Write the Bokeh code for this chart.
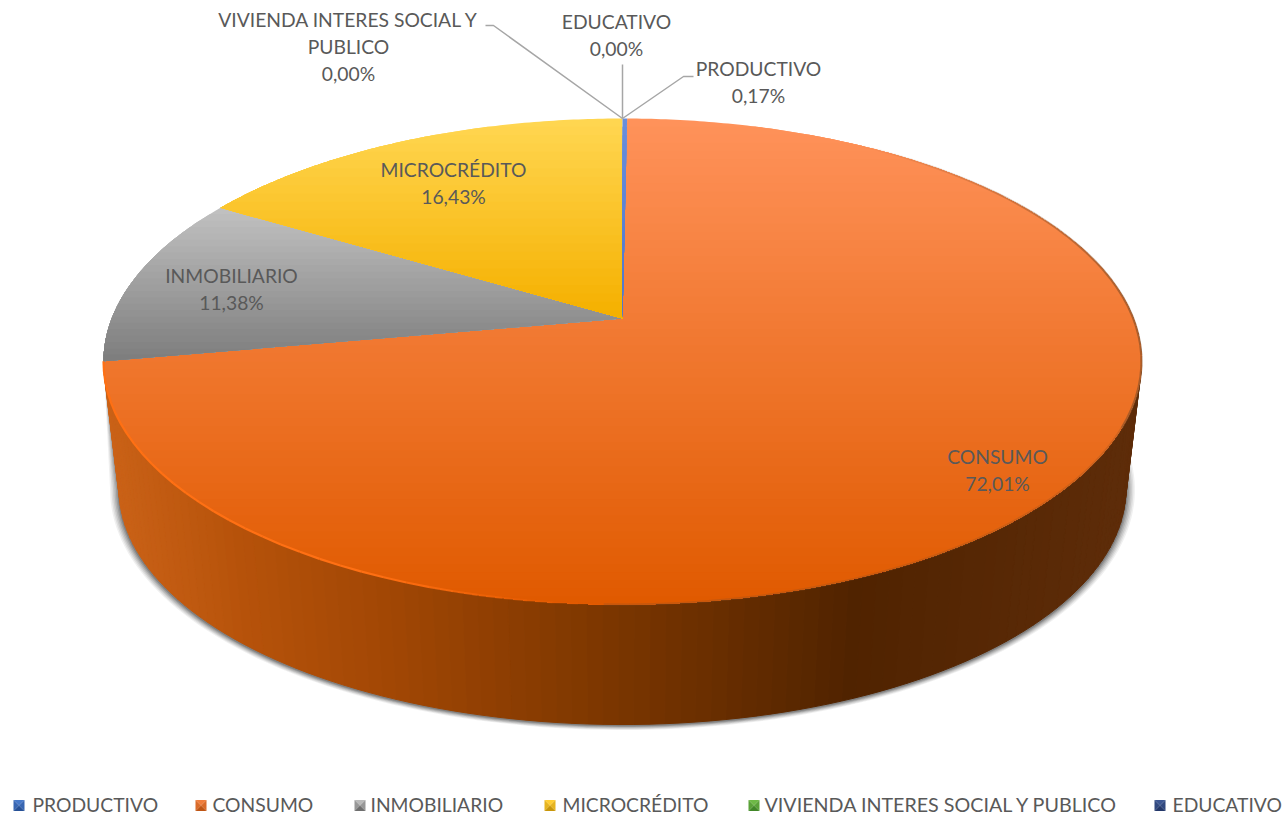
import numpy as np
from bokeh.plotting import figure
from bokeh.models import Range1d
from bokeh.core.properties import value
from bokeh.embed import file_html
from bokeh.resources import INLINE

categories = ["PRODUCTIVO", "CONSUMO", "INMOBILIARIO", "MICROCRÉDITO",
              "VIVIENDA INTERES SOCIAL Y  PUBLICO", "EDUCATIVO"]
shares = [0.17, 72.01, 11.38, 16.43, 0.00, 0.00]
share_labels = ["0,17%", "72,01%", "11,38%", "16,43%", "0,00%", "0,00%"]

FONT = value("Lato")
TXT = "#595959"
FS = "19.3px"

CX, CY = 622.0, 318.0
K, F, G = 0.177, 510.8, 235.4
DEPTH, SHRINK = 128.6, 0.97


def project(theta, depth=0.0, s=1.0):
    w = 1 + K * np.cos(theta)
    return CX + s * F * np.sin(theta) / w, CY + depth - s * G * np.cos(theta) / w


def lerp(c0, c1, t):
    c0, c1 = np.array(c0, float), np.array(c1, float)
    c = c0 + (c1 - c0) * t
    return "#%02x%02x%02x" % tuple(int(round(v)) for v in c)


def clip_below(px, py, y0):
    ox, oy = [], []
    n = len(px)
    for i in range(n):
        x1, y1, x2, y2 = px[i], py[i], px[(i + 1) % n], py[(i + 1) % n]
        if y1 >= y0:
            ox.append(x1); oy.append(y1)
        if (y1 >= y0) != (y2 >= y0):
            t = (y0 - y1) / (y2 - y1)
            ox.append(x1 + t * (x2 - x1)); oy.append(y0)
    return ox, oy


p = figure(width=1287, height=816, output_backend="svg", toolbar_location=None,
           x_range=Range1d(0, 1287), y_range=Range1d(816, 0),
           x_axis_type=None, y_axis_type=None, min_border=0,
           outline_line_color=None, margin=(0, 0, 0, 0))
p.grid.visible = False

total = sum(shares)
edges = np.cumsum([0] + shares) / total * 2 * np.pi

# soft shadow behind the wall: top rim fixed, bottom rim pushed outward
th = np.linspace(np.radians(70), edges[2], 130)
tx, ty = project(th)
wx, wy = project(th, DEPTH, SHRINK)
cyb = (wy.max() + project(0.0, DEPTH, SHRINK)[1]) / 2
for grow, alpha in [(9, .07), (7.5, .09), (6, .11), (4.5, .14), (3, .18), (1.5, .24)]:
    sx = CX + (wx - CX) * (1 + grow / 503.0)
    sy = cyb + (wy - cyb) * (1 + 0.5 * grow / 236.0) + 1
    p.patch(list(tx) + list(sx[::-1]), list(ty) + list(sy[::-1]),
            fill_color="#303030", fill_alpha=alpha, line_color=None)

# side wall of CONSUMO
wall_stops = [(103, (205, 100, 25)), (250, (182, 82, 10)), (400, (160, 70, 4)), (600, (125, 55, 0)),
              (850, (80, 35, 0)), (1141, (95, 45, 10))]
wxs, wys, wcs = [], [], []
for i in range(len(th) - 1):
    wxs.append([tx[i], tx[i + 1], wx[i + 1], wx[i]])
    wys.append([ty[i], ty[i + 1], wy[i + 1], wy[i]])
    xm = (wx[i] + wx[i + 1]) / 2
    for (a, ca), (b, cb) in zip(wall_stops, wall_stops[1:]):
        if a <= xm <= b:
            wcs.append(lerp(ca, cb, (xm - a) / (b - a)))
            break
    else:
        wcs.append(lerp(wall_stops[0][1], wall_stops[0][1], 0))
p.patches(wxs, wys, fill_color=wcs, line_color=wcs, line_width=1)

# top surface: each slice with its own vertical gradient
ramps = [((104, 142, 220), (80, 118, 200)),
         ((255, 146, 90), (224, 90, 0)),
         ((192, 192, 192), (126, 126, 126)),
         ((255, 214, 80), (245, 176, 0))]
order = [1, 2, 3, 0]
for idx in order:
    a0, a1 = edges[idx], edges[idx + 1]
    t = np.linspace(a0, a1, max(int((a1 - a0) * 90), 4))
    x, y = project(t)
    px = [CX] + list(x)
    py = [CY] + list(y)
    y0, y1 = min(py), max(py)
    xs, ys, cs = [], [], []
    n = 60 if idx == 1 else 24
    for j in range(n):
        yb = y0 + (y1 - y0) * j / n
        ox, oy = clip_below(px, py, yb)
        if len(ox) >= 3:
            xs.append(ox); ys.append(oy)
            cs.append(lerp(ramps[idx][0], ramps[idx][1], j / (n - 1)))
    p.patches(xs, ys, fill_color=cs, line_color=None)

# rim highlight
th2 = np.linspace(edges[1] + .02, edges[2], 110)
rx, ry = project(th2)
rims, rimy, rimc, rima = [], [], [], []
for i in range(len(th2) - 1):
    rims.append([rx[i], rx[i + 1]]); rimy.append([ry[i], ry[i + 1]])
    xm = rx[i]
    if xm < 622:
        rimc.append(lerp((232, 92, 0), (255, 112, 20), min(1, (622 - xm) / 250)))
        rima.append(min(1, (622 - xm) / 200))
    else:
        rimc.append("#8f5228")
        rima.append(min(1, max(0, (xm - 850) / 280)) * .7 if ry[i] < 420 else .3)
p.multi_line(rims, rimy, line_color=rimc, line_alpha=rima, line_width=2.2)

# leader lines
lead = "#a6a6a6"
ax, ay = project(0.0)
p.line([ax, ax + 61, ax + 71], [ay, ay - 42, ay - 42], line_color=lead, line_width=1.5)
p.line([ax, ax - 129, ax - 137], [ay, ay - 93, ay - 93], line_color=lead, line_width=1.5)
p.line([ax, ax], [ay, ay - 54], line_color=lead, line_width=1.5)


def label(xc, yc, lines):
    for k, s in enumerate(lines):
        p.text([xc], [yc + k * 27], text=[s], text_font=FONT, text_font_size=FS,
               text_color=TXT, text_align="center", text_baseline="middle")


label(348, 18.5, ["VIVIENDA INTERES SOCIAL Y", "PUBLICO", share_labels[4]])
label(616, 21, [categories[5], share_labels[5]])
label(758, 68, [categories[0], share_labels[0]])
label(453, 169, [categories[3], share_labels[3]])
label(231, 275, [categories[2], share_labels[2]])
label(997, 456, [categories[1], share_labels[1]])

# legend
swatch_cols = [((70, 120, 200), (38, 80, 150)), ((240, 125, 60), (190, 85, 20)),
               ((185, 185, 185), (110, 110, 110)), ((255, 205, 50), (200, 150, 10)),
               ((110, 185, 70), (65, 135, 40)), ((60, 85, 145), (35, 55, 105))]
swatch_x = [13, 195, 354, 544, 748, 1154]
text_x = [32, 212, 370, 562, 764, 1172]
LY = 805
for sx0, tx0, name, (c0, c1) in zip(swatch_x, text_x, categories, swatch_cols):
    s = 11
    L, R, T, B = sx0, sx0 + s, LY - s / 2, LY + s / 2
    mx, my = (L + R) / 2, LY
    p.patches([[L, R, mx], [L, mx, L], [R, mx, R], [L, R, mx]],
              [[T, T, my], [T, my, B], [T, my, B], [B, B, my]],
              fill_color=[lerp(c0, c0, 0), lerp(c0, c1, .45), lerp(c0, c1, .45), lerp(c1, c1, 0)],
              line_color=None)
    p.text([tx0], [LY - 1], text=[name], text_font=FONT,
           text_font_size="19.7px" if "  " in name else FS, text_color=TXT,
           text_align="left", text_baseline="middle")

open("out.html", "w").write(file_html(p, INLINE))
